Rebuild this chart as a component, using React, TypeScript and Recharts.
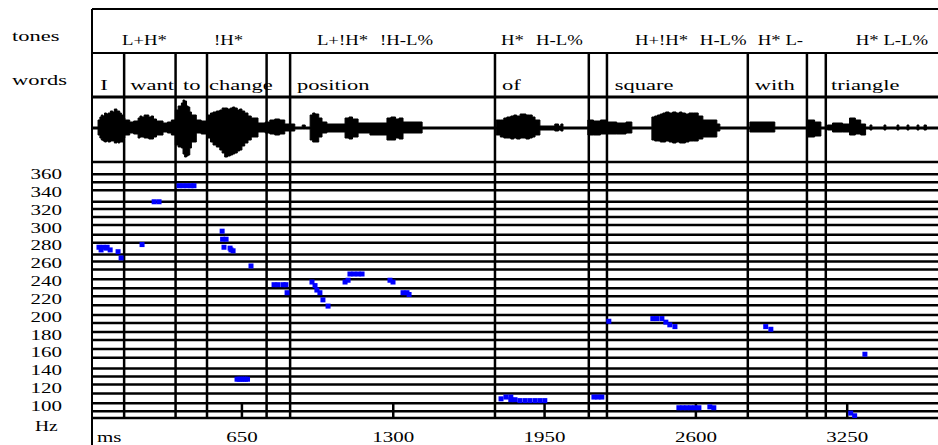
import React from 'react';
import { ScatterChart, Scatter, XAxis, YAxis, ReferenceLine, AreaChart, Area } from 'recharts';

// ---- data ----
const X_DOMAIN: [number, number] = [6, 3640];
const WORD_BOUNDARIES = [144, 365, 500, 756, 857, 1737, 2140, 2218, 2823, 3077, 3158];
const TIER_NAMES = ['tones', 'words'];
const TIER_LEVELS = [1.5, 0.5];
const TONE_TIMES = [135, 530, 972, 1243, 1763, 1913, 2338, 2617, 2866, 3287];
const TONE_LABELS = ['L+H*', '!H*', 'L+!H*', '!H-L%', 'H*', 'H-L%', 'H+!H*', 'H-L%', 'H* L-', 'H* L-L%'];
const WORD_TIMES = [41, 170, 397, 509, 887, 1767, 2252, 2853, 3180];
const WORD_LABELS = ['I', 'want', 'to', 'change', 'position', 'of', 'square', 'with', 'triangle'];

const WAVE_MS = [0, 32, 40, 46, 53, 60, 68, 75, 85, 95, 102, 108, 113, 118, 125, 132, 140, 147, 168, 185, 204, 212, 220, 230, 240, 250, 260, 270, 283, 311, 330, 347, 364, 376, 390, 397, 404, 412, 419, 426, 433, 454, 475, 504, 515, 526, 540, 555, 565, 576, 588, 600, 610, 619, 630, 640, 650, 662, 676, 690, 719, 750, 770, 791, 812, 834, 877, 909, 922, 943, 954, 964, 980, 994, 1015, 1093, 1110, 1125, 1149, 1200, 1273, 1290, 1310, 1325, 1342, 1424, 1742, 1760, 1775, 1788, 1805, 1818, 1830, 1845, 1857, 1870, 1885, 1897, 1909, 1930, 1994, 2010, 2020, 2029, 2136, 2160, 2190, 2218, 2260, 2300, 2325, 2411, 2423, 2435, 2447, 2458, 2470, 2485, 2500, 2515, 2530, 2540, 2555, 2570, 2590, 2610, 2630, 2690, 2703, 2832, 2939, 3081, 3110, 3137, 3165, 3187, 3230, 3260, 3285, 3308, 3329, 3348, 3356, 3408, 3416, 3464, 3472, 3507, 3515, 3550, 3558, 3580, 3590, 3640];
const WAVE_UP = [1, 8, 11, 13, 12, 15, 14, 15, 17, 16, 19, 19, 17, 17, 15, 13, 10, 8, 6, 7, 10, 12, 11, 13, 13, 11, 12, 9, 7, 5, 6, 8, 18, 22, 25, 28, 27, 22, 21, 16, 13, 8, 7, 13, 15, 16, 17, 18, 20, 20, 19, 20, 21, 20, 18, 19, 17, 15, 12, 10, 5, 6, 8, 9, 8, 4, 1, 3, 1, 13, 15, 14, 10, 6, 4, 10, 11, 9, 5, 5, 10, 11, 9, 10, 6, 1, 8, 8, 10, 11, 12, 13, 12, 14, 14, 13, 13, 11, 8, 2, 4, 2, 4, 1, 8, 7, 8, 6, 5, 6, 1, 11, 12, 13, 14, 15, 16, 15, 16, 15, 16, 15, 14, 15, 15, 12, 8, 4, 1, 6, 1, 8, 6, 1, 3, 5, 4, 10, 8, 4, 1, 3, 1, 3, 1, 3, 1, 3, 1, 3, 1, 3, 1, 1];
const WAVE_DOWN = [1, 7, 10, 12, 13, 14, 13, 14, 13, 13, 15, 15, 14, 15, 14, 14, 10, 7, 5, 6, 10, 9, 9, 10, 10, 11, 11, 9, 7, 4, 5, 7, 17, 19, 20, 26, 29, 28, 27, 20, 14, 5, 6, 10, 14, 17, 19, 22, 25, 29, 28, 27, 26, 25, 23, 22, 18, 15, 12, 9, 4, 5, 6, 7, 6, 3, 1, 1, 1, 12, 14, 14, 9, 5, 4, 10, 11, 9, 5, 7, 12, 12, 10, 11, 5, 1, 7, 9, 10, 10, 11, 10, 11, 10, 10, 11, 10, 9, 7, 2, 3, 2, 3, 1, 7, 7, 6, 6, 6, 5, 1, 12, 13, 13, 14, 14, 13, 14, 15, 14, 15, 15, 14, 13, 13, 11, 9, 3, 1, 4, 1, 9, 8, 1, 2, 4, 4, 7, 6, 7, 1, 2, 1, 2, 1, 2, 1, 2, 1, 2, 1, 2, 1, 1];

const PITCH_MS = [36, 45, 54, 67, 71, 84, 118, 131, 221, 273, 294, 380, 397, 414, 431, 444, 565, 567, 582, 573, 599, 603, 612, 689, 629, 638, 647, 656, 665, 674, 788, 805, 827, 839, 844, 951, 964, 972, 985, 998, 1020, 1093, 1106, 1114, 1131, 1149, 1166, 1286, 1299, 1342, 1359, 1368, 1763, 1784, 1805, 1805, 1823, 1844, 1866, 1887, 1909, 1930, 1951, 2162, 2179, 2196, 2226, 2415, 2432, 2454, 2471, 2488, 2510, 2527, 2544, 2561, 2578, 2596, 2613, 2660, 2677, 2900, 2922, 3265, 3282, 3326];
const PITCH_HZ = [278, 275, 278, 277, 278, 275, 273, 266, 281, 329, 329, 347, 347, 347, 347, 347, 296, 287, 287, 278, 277, 275, 274, 257, 130, 130, 130, 130, 130, 130, 236, 236, 236, 236, 227, 239, 235, 230, 227, 219, 212, 239, 241, 248, 248, 248, 248, 241, 239, 227, 227, 225, 108, 110, 110, 107, 107, 106, 106, 106, 106, 106, 106, 110, 110, 110, 195, 198, 198, 198, 194, 191, 189, 98, 98, 98, 98, 98, 98, 99, 98, 189, 186, 92, 89, 158];

const HZ_TICKS = [100, 120, 140, 160, 180, 200, 220, 240, 260, 280, 300, 320, 340, 360];
const HZ_GRID = [360, 351, 342, 329, 321, 312, 303, 292, 283, 270, 262, 253, 242, 232, 223, 213, 202, 193, 183, 174, 164, 154, 142, 133, 124, 114, 103, 94];
const MS_TICKS = [650, 1300, 1950, 2600, 3250];
const HZ_DOMAIN: [number, number] = [86.5, 373.6];

// ---- derived tables ----
const toneData = TONE_TIMES.map((ms, i) => ({ ms, level: 1.5, label: TONE_LABELS[i] }));
const wordData = WORD_TIMES.map((ms, i) => ({ ms, level: 0.5, label: WORD_LABELS[i] }));
const waveData = WAVE_MS.map((ms, i) => ({ ms, up: WAVE_UP[i], down: WAVE_DOWN[i] }));
const pitchData = PITCH_MS.map((ms, i) => ({ ms, hz: PITCH_HZ[i] }));

const FONT = "'Liberation Serif', 'Times New Roman', serif";
const INK = '#000';

const SText = ({ x, y, sx, anchor = 'start', children }: any) => (
  <text
    transform={`translate(${x},${y}) scale(${sx},1)`}
    textAnchor={anchor}
    fontFamily={FONT}
    fontSize={15}
    fill={INK}
  >
    {children}
  </text>
);

const W = 938;

export default function App() {
  return (
    <div style={{ position: 'absolute', left: 0, top: 0, width: W, height: 445, background: '#fff', overflow: 'hidden' }}>
      {/* tiers */}
      <div style={{ position: 'absolute', left: 0, top: 0 }}>
        <ScatterChart width={W} height={107} margin={{ top: 9, right: 0, bottom: 10, left: 0 }}>
          <XAxis type="number" dataKey="ms" domain={X_DOMAIN} hide allowDataOverflow />
          <YAxis
            type="number"
            dataKey="level"
            domain={[0, 2]}
            width={92}
            ticks={TIER_LEVELS}
            interval={0}
            axisLine={false}
            tickLine={false}
            tick={(p: any) => {
              const idx = TIER_LEVELS.indexOf(p.payload.value);
              return <SText x={p.x - 72} y={p.y + 10} sx={1.5}>{TIER_NAMES[idx]}</SText>;
            }}
          />
          <ReferenceLine y={2} stroke={INK} strokeWidth={2} />
          <ReferenceLine y={1} stroke={INK} strokeWidth={2} />
          <ReferenceLine y={0} stroke={INK} strokeWidth={3} />
          <ReferenceLine x={X_DOMAIN[0]} stroke={INK} strokeWidth={2} />
          {WORD_BOUNDARIES.map((b) => (
            <ReferenceLine key={b} segment={[{ x: b, y: 0 }, { x: b, y: 1 }]} stroke={INK} strokeWidth={2.5} />
          ))}
          <Scatter
            data={toneData}
            isAnimationActive={false}
            shape={(p: any) => <SText x={p.cx} y={p.cy + 14} sx={1.25}>{p.payload.label}</SText>}
          />
          <Scatter
            data={wordData}
            isAnimationActive={false}
            shape={(p: any) => <SText x={p.cx} y={p.cy + 15} sx={1.5}>{p.payload.label}</SText>}
          />
        </ScatterChart>
      </div>

      {/* waveform */}
      <div style={{ position: 'absolute', left: 0, top: 87 }}>
        <AreaChart width={W} height={85} data={waveData} margin={{ top: 10, right: 0, bottom: 10, left: 92 }}>
          <XAxis type="number" dataKey="ms" domain={X_DOMAIN} hide allowDataOverflow />
          <YAxis type="number" domain={[-34, 31]} hide allowDataOverflow />
          <Area
            type="stepAfter"
            dataKey={(d: any) => [-d.down, d.up]}
            fill={INK}
            fillOpacity={1}
            stroke={INK}
            strokeWidth={1}
            isAnimationActive={false}
            dot={false}
            activeDot={false}
          />
          <ReferenceLine x={X_DOMAIN[0]} stroke={INK} strokeWidth={2} />
          {WORD_BOUNDARIES.map((b) => (
            <ReferenceLine key={b} x={b} stroke={INK} strokeWidth={2.5} />
          ))}
        </AreaChart>
      </div>

      {/* pitch track */}
      <div style={{ position: 'absolute', left: 0, top: 152 }}>
        <ScatterChart width={W} height={293} margin={{ top: 10, right: 0, bottom: 0, left: 0 }}>
          <XAxis
            type="number"
            dataKey="ms"
            domain={X_DOMAIN}
            allowDataOverflow
            ticks={MS_TICKS}
            interval={0}
            height={27}
            tickLine={false}
            axisLine={{ stroke: INK, strokeWidth: 2.5 }}
            tick={(p: any) => (
              <SText x={p.x} y={p.y + 16} sx={1.4} anchor="middle">{p.payload.value}</SText>
            )}
            label={{
              value: 'ms',
              content: (p: any) => (
                <SText x={p.viewBox.x + 5} y={p.viewBox.y + 24} sx={1.4}>ms</SText>
              ),
            }}
          />
          <YAxis
            type="number"
            dataKey="hz"
            domain={HZ_DOMAIN}
            allowDataOverflow
            width={92}
            ticks={HZ_TICKS}
            interval={0}
            tickLine={false}
            axisLine={false}
            tick={(p: any) => (
              <SText x={p.x - 22} y={p.y + 5} sx={1.4} anchor="end">{p.payload.value}</SText>
            )}
            label={{
              value: 'Hz',
              content: (p: any) => (
                <SText x={35} y={p.viewBox.y + p.viewBox.height + 13} sx={1.3}>Hz</SText>
              ),
            }}
          />
          <ReferenceLine y={HZ_DOMAIN[1]} stroke={INK} strokeWidth={2.5} />
          {HZ_GRID.map((h) => (
            <ReferenceLine key={'g' + h} y={h} stroke={INK} strokeWidth={2.5} />
          ))}
          {WORD_BOUNDARIES.map((b) => (
            <ReferenceLine key={'b' + b} x={b} stroke={INK} strokeWidth={2.5} />
          ))}
          {MS_TICKS.map((t) => (
            <ReferenceLine key={'t' + t} segment={[{ x: t, y: HZ_DOMAIN[0] }, { x: t, y: 103 }]} stroke={INK} strokeWidth={2.5} />
          ))}
          <ReferenceLine
            segment={[{ x: X_DOMAIN[0], y: 56 }, { x: X_DOMAIN[0], y: HZ_DOMAIN[1] }]}
            stroke={INK}
            strokeWidth={2}
            ifOverflow="visible"
          />
          <Scatter
            data={pitchData}
            isAnimationActive={false}
            shape={(p: any) => <rect x={p.cx - 2.5} y={p.cy - 2.5} width={5} height={5} fill="#0000ff" />}
          />
        </ScatterChart>
      </div>
    </div>
  );
}
